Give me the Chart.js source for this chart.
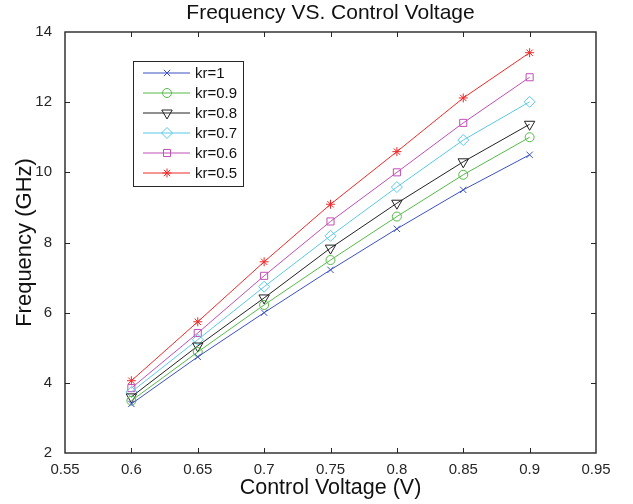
<!DOCTYPE html>
<html>
<head>
<meta charset="utf-8">
<script src="https://cdn.jsdelivr.net/npm/chart.js"></script>
<style>
  body { margin: 0; background: #fff; }
  #wrap { width: 633px; height: 504px; }
</style>
</head>
<body>
<div id="wrap"><canvas id="freqChart" width="633" height="504"></canvas></div>
<script>
// control voltage (V)
const voltage = [0.6, 0.65, 0.7, 0.75, 0.8, 0.85, 0.9];

// frequency (GHz) per kr
const kr10 = [3.40, 4.74, 6.00, 7.22, 8.39, 9.50, 10.50];
const kr09 = [3.49, 4.88, 6.22, 7.50, 8.74, 9.93, 11.00];
const kr08 = [3.60, 5.05, 6.42, 7.84, 9.12, 10.30, 11.37];
const kr07 = [3.74, 5.23, 6.74, 8.19, 9.58, 10.92, 12.01];
const kr06 = [3.85, 5.42, 7.05, 8.60, 10.00, 11.41, 12.71];
const kr05 = [4.06, 5.74, 7.45, 9.09, 10.59, 12.12, 13.41];

const seriesNames = ['kr=1', 'kr=0.9', 'kr=0.8', 'kr=0.7', 'kr=0.6', 'kr=0.5'];
const seriesData = [kr10, kr09, kr08, kr07, kr06, kr05];
const chartTitle = 'Frequency VS. Control Voltage';

const FONT = "'Liberation Sans', Arial, Helvetica, sans-serif";
const styles = [
    { color: '#3c50c0', pointStyle: 'crossRot', radius: 4.5, rotation: 0 },
    { color: '#55b947', pointStyle: 'circle',   radius: 4.5, rotation: 0 },
    { color: '#222222', pointStyle: 'triangle', radius: 6,   rotation: 180 },
    { color: '#5bc8e6', pointStyle: 'rectRot',  radius: 5.5, rotation: 0 },
    { color: '#c04fb5', pointStyle: 'rect',     radius: 5,   rotation: 0 },
    { color: '#ee2a2a', pointStyle: 'star',     radius: 4.5, rotation: 0 }
];

let datasets = seriesData.map((vals, i) => ({
    label: seriesNames[i],
    data: vals.map((v, j) => ({ x: voltage[j], y: v })),
    borderColor: styles[i].color,
    backgroundColor: 'rgba(0,0,0,0)',
    borderWidth: 1,
    pointStyle: styles[i].pointStyle,
    pointRadius: styles[i].radius,
    pointRotation: styles[i].rotation,
    pointBorderColor: styles[i].color,
    pointBackgroundColor: 'rgba(0,0,0,0)',
    pointBorderWidth: 1,
    fill: false,
    tension: 0
}));

// matlab style box with inward ticks on all four sides, title centred on the axes
const axesBox = {
    id: 'axesBox',
    afterDraw(chart) {
        const { ctx, chartArea: a, scales: { x, y } } = chart;
        ctx.save();
        ctx.strokeStyle = '#262626';
        ctx.lineWidth = 1;
        ctx.beginPath();
        x.ticks.forEach(t => {
            const px = Math.round(x.getPixelForValue(t.value)) + 0.5;
            if (px <= a.left + 1 || px >= a.right - 1) return;
            ctx.moveTo(px, a.bottom); ctx.lineTo(px, a.bottom - 5);
            ctx.moveTo(px, a.top); ctx.lineTo(px, a.top + 5);
        });
        y.ticks.forEach(t => {
            const py = Math.round(y.getPixelForValue(t.value)) + 0.5;
            if (py <= a.top + 1 || py >= a.bottom - 1) return;
            ctx.moveTo(a.left, py); ctx.lineTo(a.left + 5, py);
            ctx.moveTo(a.right, py); ctx.lineTo(a.right - 5, py);
        });
        ctx.stroke();
        ctx.lineWidth = 1.4;
        ctx.strokeRect(a.left, a.top, a.width, a.height);

        ctx.fillStyle = '#111';
        ctx.font = '21px ' + FONT;
        ctx.textAlign = 'center';
        ctx.textBaseline = 'middle';
        ctx.fillText(chartTitle, (a.left + a.right) / 2, 13);
        ctx.restore();
    }
};

// legend box with line + marker, like the original figure
const lineLegend = {
    id: 'lineLegend',
    afterDraw(chart) {
        const ctx = chart.ctx;
        const bx = 133, by = 61, bw = 110, bh = 125;
        ctx.save();
        ctx.fillStyle = '#fff';
        ctx.fillRect(bx, by, bw, bh);
        ctx.strokeStyle = '#262626';
        ctx.lineWidth = 1;
        ctx.strokeRect(bx + 0.5, by + 0.5, bw, bh);
        chart.data.datasets.forEach((ds, i) => {
            const cy = by + 12 + i * 20;
            ctx.strokeStyle = ds.borderColor;
            ctx.lineWidth = 1;
            ctx.beginPath();
            ctx.moveTo(143, cy); ctx.lineTo(190, cy);
            ctx.stroke();
            ctx.fillStyle = 'rgba(0,0,0,0)';
            Chart.helpers.drawPoint(ctx, {
                pointStyle: ds.pointStyle,
                rotation: ds.pointRotation,
                radius: ds.pointRadius,
                borderWidth: 1
            }, 167, cy);
            ctx.fillStyle = '#111';
            ctx.font = '15px ' + FONT;
            ctx.textBaseline = 'middle';
            ctx.textAlign = 'left';
            ctx.fillText(ds.label, 195, cy + 1);
        });
        ctx.restore();
    }
};

const config = {
    type: 'line',
    data: { datasets: datasets },
    options: {
        responsive: false,
        animation: false,
        layout: { padding: { left: 0, right: 37, top: 32, bottom: 0 } },
        plugins: {
            legend: { display: false },
            tooltip: { enabled: false },
            title: { display: false }
        },
        scales: {
            x: {
                type: 'linear',
                min: 0.55,
                max: 0.95,
                grid: { display: false },
                border: { display: false },
                ticks: {
                    stepSize: 0.05,
                    color: '#262626',
                    padding: 0,
                    font: { family: FONT, size: 15 },
                    callback: v => String(+v.toFixed(2))
                },
                title: {
                    display: true,
                    text: 'Control Voltage (V)',
                    color: '#111',
                    font: { family: FONT, size: 21.5 },
                    padding: { top: 0, bottom: 3 }
                },
                afterFit: s => { s.height = 51; }
            },
            y: {
                min: 2,
                max: 14,
                grid: { display: false },
                border: { display: false },
                ticks: {
                    stepSize: 2,
                    color: '#262626',
                    padding: 5,
                    font: { family: FONT, size: 15 }
                },
                title: {
                    display: true,
                    text: 'Frequency (GHz)',
                    color: '#111',
                    font: { family: FONT, size: 22 },
                    padding: { top: 12, bottom: 0 }
                },
                afterFit: s => { s.width = 65; }
            }
        }
    },
    plugins: [axesBox, lineLegend]
};

const myChart = new Chart(document.getElementById('freqChart').getContext('2d'), config);
</script>
</body>
</html>
